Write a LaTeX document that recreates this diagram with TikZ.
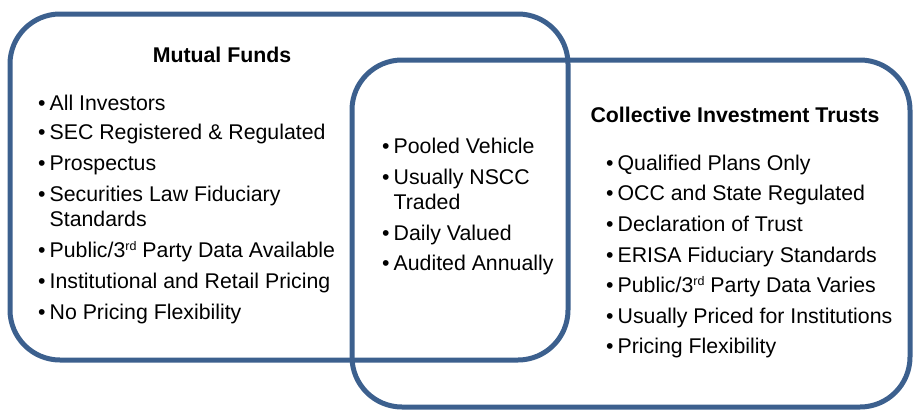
\documentclass[tikz,border=0pt]{standalone}
\usepackage{fontspec}
\setmainfont{Liberation Sans}
\definecolor{VennBlue}{RGB}{60,96,142}
\newcommand{\bul}{\textbullet\hspace{4pt}}
\newcommand{\ordsup}[1]{\raisebox{6.5pt}{\fontsize{12.5}{12}\selectfont #1}}

\begin{document}
\begin{tikzpicture}[x=1pt,y=-1pt,
        fundbox/.style={draw=VennBlue,line width=5pt,rounded corners=50pt},
        head/.style={font=\fontsize{21.3}{25}\selectfont\bfseries,anchor=base,inner sep=0pt},
        itm/.style={font=\fontsize{21.3}{25}\selectfont,anchor=base west,inner sep=0pt}
    ]
    \useasboundingbox (0,0) rectangle (914,410);
    % the two overlapping boxes
    \draw[fundbox] (10,14) rectangle (568,360);
    \draw[fundbox] (352,60) rectangle (910,407);
    % headings
    \node[head] (mfhead)  at (222,62)  {Mutual Funds};
    \node[head] (cithead) at (735,122) {Collective Investment Trusts};
    % mutual funds only
    \node[itm] (mf1)  at (38,110) {\bul All Investors};
    \node[itm] (mf2)  at (38,139) {\bul SEC Registered \& Regulated};
    \node[itm] (mf3)  at (38,170) {\bul Prospectus};
    \node[itm] (mf4)  at (38,201) {\bul Securities Law Fiduciary};
    \node[itm] (mf4b) at (38,226) {\phantom{\bul}Standards};
    \node[itm] (mf5)  at (38,257) {\bul Public/3\ordsup{rd} Party Data Available};
    \node[itm] (mf6)  at (38,288) {\bul Institutional and Retail Pricing};
    \node[itm] (mf7)  at (38,319) {\bul No Pricing Flexibility};
    % shared by both
    \node[itm] (bo1)  at (382,153) {\bul Pooled Vehicle};
    \node[itm] (bo2)  at (382,184) {\bul Usually NSCC};
    \node[itm] (bo2b) at (382,209) {\phantom{\bul}Traded};
    \node[itm] (bo3)  at (382,240) {\bul Daily Valued};
    \node[itm] (bo4)  at (382,270) {\bul Audited Annually};
    % collective investment trusts only
    \node[itm] (ct1)  at (606,170) {\bul Qualified Plans Only};
    \node[itm] (ct2)  at (606,200) {\bul OCC and State Regulated};
    \node[itm] (ct3)  at (606,231) {\bul Declaration of Trust};
    \node[itm] (ct4)  at (606,262) {\bul ERISA Fiduciary Standards};
    \node[itm] (ct5)  at (606,292) {\bul Public/3\ordsup{rd} Party Data Varies};
    \node[itm] (ct6)  at (606,323) {\bul Usually Priced for Institutions};
    \node[itm] (ct7)  at (606,353) {\bul Pricing Flexibility};
\end{tikzpicture}
\end{document}
